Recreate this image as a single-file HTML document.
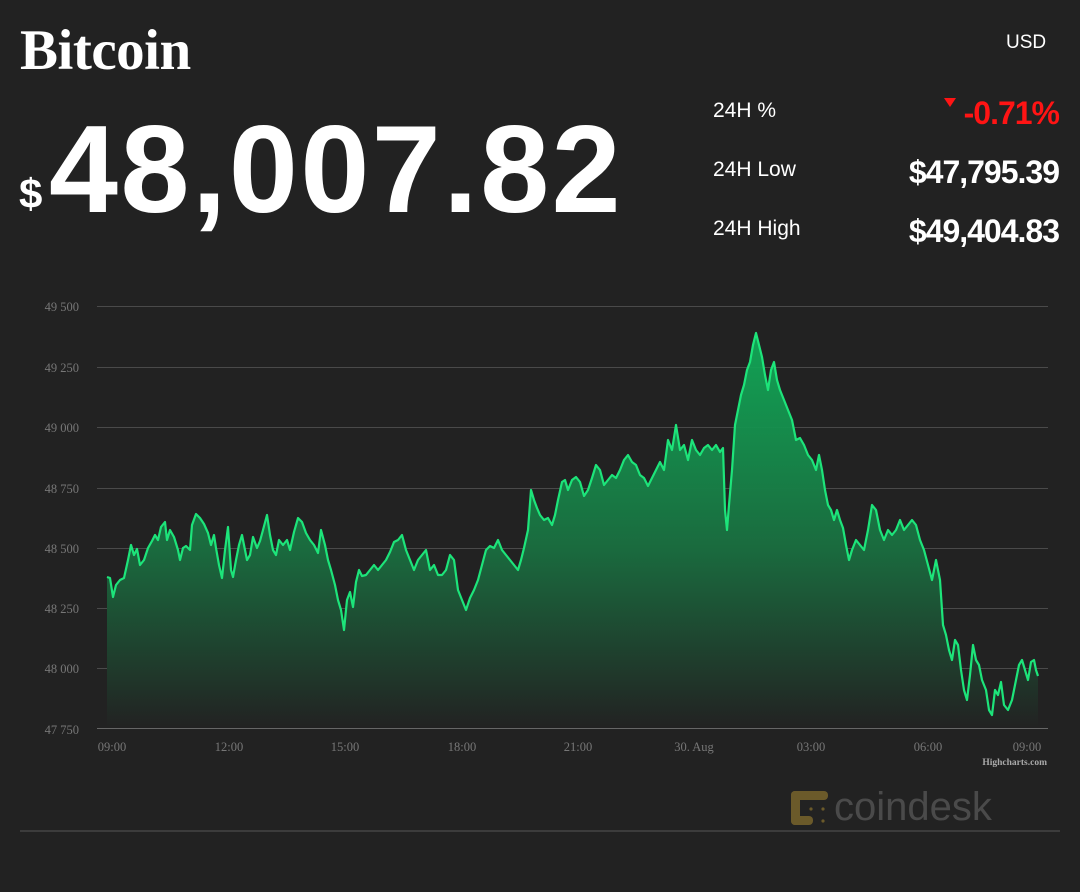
<!DOCTYPE html>
<html><head><meta charset="utf-8"><style>
html,body{margin:0;padding:0;background:#222222;width:1080px;height:892px;overflow:hidden;position:relative;font-family:"Liberation Sans",sans-serif;color:#fff}
.a{position:absolute;white-space:nowrap}
</style></head><body>
<div class="a" style="left:20px;top:18px;font-family:'Liberation Serif',serif;font-weight:bold;font-size:57px;letter-spacing:-0.5px;">Bitcoin</div>
<div class="a" style="left:1006px;top:32px;font-size:19px;">USD</div>
<div class="a" style="left:19px;top:170px;font-weight:bold;font-size:42px;">$</div>
<div class="a" style="left:49px;top:100px;font-weight:bold;font-size:124px;letter-spacing:2.5px;line-height:140px;">48,007.82</div>
<div class="a" style="left:713px;top:99px;font-size:21px;">24H %</div>
<div class="a" style="left:713px;top:158px;font-size:21px;">24H Low</div>
<div class="a" style="left:713px;top:217px;font-size:21px;">24H High</div>
<div class="a" style="left:944px;top:98px;width:0;height:0;border-left:6px solid transparent;border-right:6px solid transparent;border-top:9px solid #ff1414;"></div>
<div class="a" style="right:21px;top:95px;font-weight:bold;font-size:32px;letter-spacing:-1px;color:#ff1414;">-0.71%</div>
<div class="a" style="right:21px;top:154px;font-weight:bold;font-size:32px;letter-spacing:-1px;">$47,795.39</div>
<div class="a" style="right:21px;top:213px;font-weight:bold;font-size:32px;letter-spacing:-1px;">$49,404.83</div>

<svg class="a" style="left:0;top:0" width="1080" height="892">
<defs><linearGradient id="g" x1="0" y1="0" x2="0" y2="1" gradientUnits="objectBoundingBox">
<stop offset="0" stop-color="#10b05a" stop-opacity="0.9"/><stop offset="0.55" stop-color="#1a6a3e"/><stop offset="1" stop-color="#222222"/></linearGradient></defs>
<g stroke="#4a4a4a" stroke-width="1">
<line x1="97" x2="1048" y1="306.5" y2="306.5"/><line x1="97" x2="1048" y1="367.5" y2="367.5"/><line x1="97" x2="1048" y1="427.5" y2="427.5"/><line x1="97" x2="1048" y1="488.5" y2="488.5"/><line x1="97" x2="1048" y1="548.5" y2="548.5"/><line x1="97" x2="1048" y1="608.5" y2="608.5"/><line x1="97" x2="1048" y1="668.5" y2="668.5"/></g>
<line x1="97" x2="1048" y1="728.5" y2="728.5" stroke="#666"/>
<g font-family="Liberation Serif,serif" font-size="12.5" fill="#777" text-anchor="end">
<text x="79" y="311">49 500</text><text x="79" y="372">49 250</text><text x="79" y="432">49 000</text><text x="79" y="493">48 750</text><text x="79" y="553">48 500</text><text x="79" y="613">48 250</text><text x="79" y="673">48 000</text><text x="79" y="734">47 750</text></g>
<g font-family="Liberation Serif,serif" font-size="12.5" fill="#777" text-anchor="middle">
<text x="112" y="751">09:00</text><text x="229" y="751">12:00</text><text x="345" y="751">15:00</text><text x="462" y="751">18:00</text><text x="578" y="751">21:00</text><text x="694" y="751">30. Aug</text><text x="811" y="751">03:00</text><text x="928" y="751">06:00</text><text x="1027" y="751">09:00</text></g>
<text x="1047" y="765" text-anchor="end" font-family="Liberation Serif,serif" font-size="9.5" font-weight="bold" fill="#aaa">Highcharts.com</text>
<path id="p" fill="url(#g)" d="M107,728 L107,577 110,578 113,597 116,585 120,580 124,578 128,560 131,545 134,555 137,549 140,565 144,560 148,548 152,541 155,535 158,540 161,527 165,522 167,540 170,530 174,537 178,550 180,560 183,548 186,546 190,550 192,525 196,514 200,518 204,524 208,533 211,545 214,535 216,548 219,565 222,578 225,550 228,527 231,570 233,577 236,560 239,545 242,535 244,545 247,560 250,555 253,537 257,548 260,541 263,530 267,515 270,535 273,550 276,555 279,540 283,545 287,540 290,550 294,532 298,518 302,522 306,533 310,540 314,545 318,553 321,530 325,545 328,560 331,570 335,585 338,600 341,610 344,630 347,600 350,592 353,607 356,582 359,570 362,576 366,575 370,570 374,565 378,570 382,565 386,560 390,552 394,542 398,540 402,535 406,550 410,560 414,570 418,560 422,555 426,550 428,560 430,570 434,565 438,575 442,575 446,570 450,555 454,560 458,590 462,600 466,610 470,598 474,590 478,580 482,565 486,550 490,546 494,548 498,540 502,550 506,555 510,560 514,565 518,570 521,560 524,548 528,530 531,490 534,500 537,508 540,515 544,520 548,518 552,525 555,515 558,500 562,482 565,480 568,490 572,480 576,477 580,482 584,496 588,490 592,478 596,465 600,470 604,485 608,480 612,475 616,478 620,470 624,460 628,455 632,462 636,465 640,475 644,478 648,486 652,478 656,470 660,462 664,470 668,440 672,450 676,425 680,450 684,445 688,460 692,440 696,450 700,455 704,448 708,445 712,450 716,445 720,452 723,448 725,510 727,530 729,505 732,470 735,425 738,410 741,395 744,385 747,370 750,362 753,345 756,333 759,345 762,357 765,375 768,390 771,370 774,362 777,380 780,390 784,400 788,410 792,420 796,440 800,438 804,445 808,455 812,460 816,470 819,455 822,470 825,490 828,505 831,510 834,520 837,510 840,520 843,528 846,545 849,560 852,550 856,540 860,545 864,550 868,530 872,505 876,510 880,530 884,540 888,530 892,535 896,530 900,520 904,530 908,525 912,520 916,525 920,540 924,550 928,565 932,580 936,560 940,580 943,625 946,635 949,650 952,660 955,640 958,645 961,670 964,690 967,700 970,675 973,645 976,660 979,665 982,680 986,690 989,710 992,715 995,690 998,695 1001,682 1004,705 1008,710 1012,700 1016,680 1019,665 1022,660 1025,670 1028,680 1031,662 1034,660 1036,670 1038,676 L1038,728 Z"/>
<polyline fill="none" stroke="#1de47a" stroke-width="2.2" stroke-linejoin="round" points="107,577 110,578 113,597 116,585 120,580 124,578 128,560 131,545 134,555 137,549 140,565 144,560 148,548 152,541 155,535 158,540 161,527 165,522 167,540 170,530 174,537 178,550 180,560 183,548 186,546 190,550 192,525 196,514 200,518 204,524 208,533 211,545 214,535 216,548 219,565 222,578 225,550 228,527 231,570 233,577 236,560 239,545 242,535 244,545 247,560 250,555 253,537 257,548 260,541 263,530 267,515 270,535 273,550 276,555 279,540 283,545 287,540 290,550 294,532 298,518 302,522 306,533 310,540 314,545 318,553 321,530 325,545 328,560 331,570 335,585 338,600 341,610 344,630 347,600 350,592 353,607 356,582 359,570 362,576 366,575 370,570 374,565 378,570 382,565 386,560 390,552 394,542 398,540 402,535 406,550 410,560 414,570 418,560 422,555 426,550 428,560 430,570 434,565 438,575 442,575 446,570 450,555 454,560 458,590 462,600 466,610 470,598 474,590 478,580 482,565 486,550 490,546 494,548 498,540 502,550 506,555 510,560 514,565 518,570 521,560 524,548 528,530 531,490 534,500 537,508 540,515 544,520 548,518 552,525 555,515 558,500 562,482 565,480 568,490 572,480 576,477 580,482 584,496 588,490 592,478 596,465 600,470 604,485 608,480 612,475 616,478 620,470 624,460 628,455 632,462 636,465 640,475 644,478 648,486 652,478 656,470 660,462 664,470 668,440 672,450 676,425 680,450 684,445 688,460 692,440 696,450 700,455 704,448 708,445 712,450 716,445 720,452 723,448 725,510 727,530 729,505 732,470 735,425 738,410 741,395 744,385 747,370 750,362 753,345 756,333 759,345 762,357 765,375 768,390 771,370 774,362 777,380 780,390 784,400 788,410 792,420 796,440 800,438 804,445 808,455 812,460 816,470 819,455 822,470 825,490 828,505 831,510 834,520 837,510 840,520 843,528 846,545 849,560 852,550 856,540 860,545 864,550 868,530 872,505 876,510 880,530 884,540 888,530 892,535 896,530 900,520 904,530 908,525 912,520 916,525 920,540 924,550 928,565 932,580 936,560 940,580 943,625 946,635 949,650 952,660 955,640 958,645 961,670 964,690 967,700 970,675 973,645 976,660 979,665 982,680 986,690 989,710 992,715 995,690 998,695 1001,682 1004,705 1008,710 1012,700 1016,680 1019,665 1022,660 1025,670 1028,680 1031,662 1034,660 1036,670 1038,676"/>
<g fill="#6b5a2a"><rect x="791" y="791" width="9" height="34" rx="4"/><rect x="791" y="791" width="37" height="9" rx="4"/><rect x="791" y="816" width="22" height="9" rx="4"/><circle cx="811" cy="809" r="1.6"/><circle cx="823" cy="809" r="1.6"/><circle cx="823" cy="821" r="1.6"/></g>
<text x="834" y="820" font-family="Liberation Sans,sans-serif" font-size="40" fill="#4a4a4a">coindesk</text>
<line x1="20" x2="1060" y1="831" y2="831" stroke="#555" stroke-width="1"/>
</svg>
</body></html>
